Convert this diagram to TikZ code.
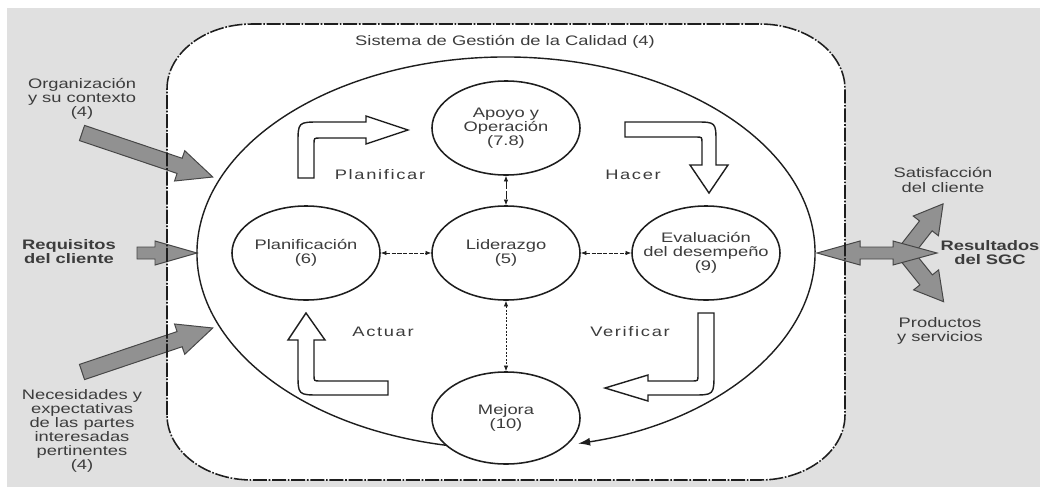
\documentclass[tikz,border=0pt]{standalone}
\usepackage{fontspec}
\setmainfont{Liberation Sans}[FakeStretch=1.33]
\newfontfamily\pdcafont{Liberation Sans}[FakeStretch=1.33,LetterSpace=12]
\usetikzlibrary{arrows.meta,calc,shapes.geometric}
\definecolor{bg}{RGB}{224,224,224}
\definecolor{txt}{RGB}{60,60,60}
\definecolor{agray}{RGB}{145,145,145}
\definecolor{aedge}{RGB}{70,70,70}
\definecolor{ink}{RGB}{30,30,30}
\begin{document}
\begin{tikzpicture}[x=0.025cm,y=-0.025cm,
  lbl/.style={font=\fontsize{9.8}{10}\selectfont, text=txt, align=center, inner sep=0},
  boldlbl/.style={lbl, font=\fontsize{9.8}{10}\selectfont\bfseries},
  pdca/.style={lbl, font=\fontsize{9.8}{10}\selectfont\pdcafont},
  proc/.style={ellipse, draw=ink, line width=1.1pt, fill=white, minimum width=3.7cm, minimum height=2.35cm, inner sep=0},
  blockw/.style={draw=ink, line width=1pt, fill=white, line join=miter},
  garrow/.style={draw=aedge, fill=agray, line width=0.7pt, line join=miter},
  link/.style={{Latex[length=1.4mm,width=1.1mm]}-{Latex[length=1.4mm,width=1.1mm]}, line width=0.5pt, draw=ink, dash pattern=on 3pt off 1pt},
  frameline/.style={draw=ink, line width=1.1pt, dash pattern=on 10pt off 1.2pt on 1.2pt off 1.2pt}
]
\useasboundingbox (0,0) rectangle (1040,488);
\fill[bg] (7,8) rectangle (1040,487);

% frame fill
\path[fill=white] (167,415) -- (167,89) arc[start angle=180,end angle=270,x radius=85,y radius=65]
  -- (760,24) arc[start angle=270,end angle=360,x radius=85,y radius=65]
  -- (845,415) arc[start angle=0,end angle=90,x radius=85,y radius=65]
  -- (252,480) arc[start angle=90,end angle=180,x radius=85,y radius=65] -- cycle;

% gray input arrows
\begin{scope}[shift={(82,133)},rotate=-18.6]
  \path[garrow] (0,-8) -- (103,-8) -- (103,-16) -- (138,0) -- (103,16) -- (103,8) -- (0,8) -- cycle;
\end{scope}
\path[garrow] (137,247) -- (155,247) -- (155,241) -- (197,253) -- (155,265) -- (155,259) -- (137,259) -- cycle;
\begin{scope}[shift={(82,372)},rotate=18.6]
  \path[garrow] (0,-8) -- (103,-8) -- (103,-16) -- (138,0) -- (103,16) -- (103,8) -- (0,8) -- cycle;
\end{scope}

% gray output arrows
\begin{scope}[shift={(903,255)},rotate=51.9]
  \path[garrow] (0,-8) -- (37,-8) -- (37,-16) -- (65,0) -- (37,16) -- (37,8) -- (0,8) -- cycle;
\end{scope}
\begin{scope}[shift={(903,251)},rotate=-51.3]
  \path[garrow] (0,-8) -- (37,-8) -- (37,-16) -- (65,0) -- (37,16) -- (37,8) -- (0,8) -- cycle;
\end{scope}
\path[garrow] (817,253) -- (860,241) -- (860,247) -- (893,247) -- (893,241) -- (937,253)
  -- (893,265) -- (893,259) -- (860,259) -- (860,265) -- cycle;

% frame border
\path[frameline] (167,415) -- (167,89) arc[start angle=180,end angle=270,x radius=85,y radius=65]
  -- (760,24) arc[start angle=270,end angle=360,x radius=85,y radius=65]
  -- (845,415) arc[start angle=0,end angle=90,x radius=85,y radius=65]
  -- (252,480) arc[start angle=90,end angle=180,x radius=85,y radius=65] -- cycle;

% big cycle ellipse
\draw[ink, line width=1pt, -{Latex[length=3mm,width=2mm]}]
  ($(506,253)+(101:309 and 196)$) arc[start angle=101,end angle=436.5,x radius=309,y radius=196];

% white block arrows
\path[blockw] (298,178) -- (298,144) .. controls (298,122) .. (320,122) -- (366,122) -- (366,116)
  -- (408,130) -- (366,144) -- (366,138) -- (320,138) .. controls (314,138) .. (314,144) -- (314,178) -- cycle;
\path[blockw] (625,122) -- (695,122) .. controls (716,122) .. (716,143) -- (716,165) -- (728,165)
  -- (709,193) -- (690,165) -- (702,165) -- (702,143) .. controls (702,137) .. (696,137) -- (625,137) -- cycle;
\path[blockw] (698,313) -- (714,313) -- (714,373) .. controls (714,395) .. (692,395) -- (648,395)
  -- (648,401) -- (605,388) -- (648,375) -- (648,381) -- (692,381) .. controls (698,381) .. (698,375) -- cycle;
\path[blockw] (388,381) -- (388,395) -- (320,395) .. controls (298,395) .. (298,373) -- (298,340)
  -- (288,340) -- (306,313) -- (325,340) -- (314,340) -- (314,375) .. controls (314,381) .. (320,381) -- cycle;

% process ellipses
\node[proc] (apoyo) at (506,128) {};
\node[proc] (lider) at (506,253) {};
\node[proc] (plan) at (306,253) {};
\node[proc] (eval) at (706,253) {};
\node[proc, minimum height=2.3cm] (mejora) at (506,418) {};
\node[lbl] (apoyot) at (apoyo) {Apoyo y\\Operación\\(7.8)};
\node[lbl] (lidert) at (lider) {Liderazgo\\(5)};
\node[lbl] (plant) at (plan) {Planificación\\(6)};
\node[lbl] (evalt) at (eval) {Evaluación\\del desempeño\\(9)};
\node[lbl] (mejorat) at (mejora) {Mejora\\(10)};

% links
\draw[link, dash pattern=on 6pt off 0.8pt] (apoyo) -- (lider);
\draw[link] (plan) -- (lider);
\draw[link] (lider) -- (eval);
\draw[link, dash pattern=on 1.5pt off 1pt] (lider) -- (mejora);

% texts
\node[lbl] (title) at (505,42) {Sistema de Gestión de la Calidad (4)};
\node[pdca] (tplan) at (380,175) {Planificar};
\node[pdca] (thacer) at (633,175) {Hacer};
\node[pdca] (tact) at (383,332) {Actuar};
\node[pdca] (tver) at (630,332) {Verificar};
\node[lbl] (org) at (82,99) {Organización\\y su contexto\\(4)};
\node[boldlbl] (req) at (69,252) {Requisitos\\del cliente};
\node[lbl] (nec) at (82,431) {Necesidades y\\expectativas\\de las partes\\interesadas\\pertinentes\\(4)};
\node[lbl] (sat) at (943,180) {Satisfacción\\del cliente};
\node[boldlbl] (res) at (990,253) {Resultados\\del SGC};
\node[lbl] (prod) at (940,331) {Productos\\y servicios};
\end{tikzpicture}
\end{document}
